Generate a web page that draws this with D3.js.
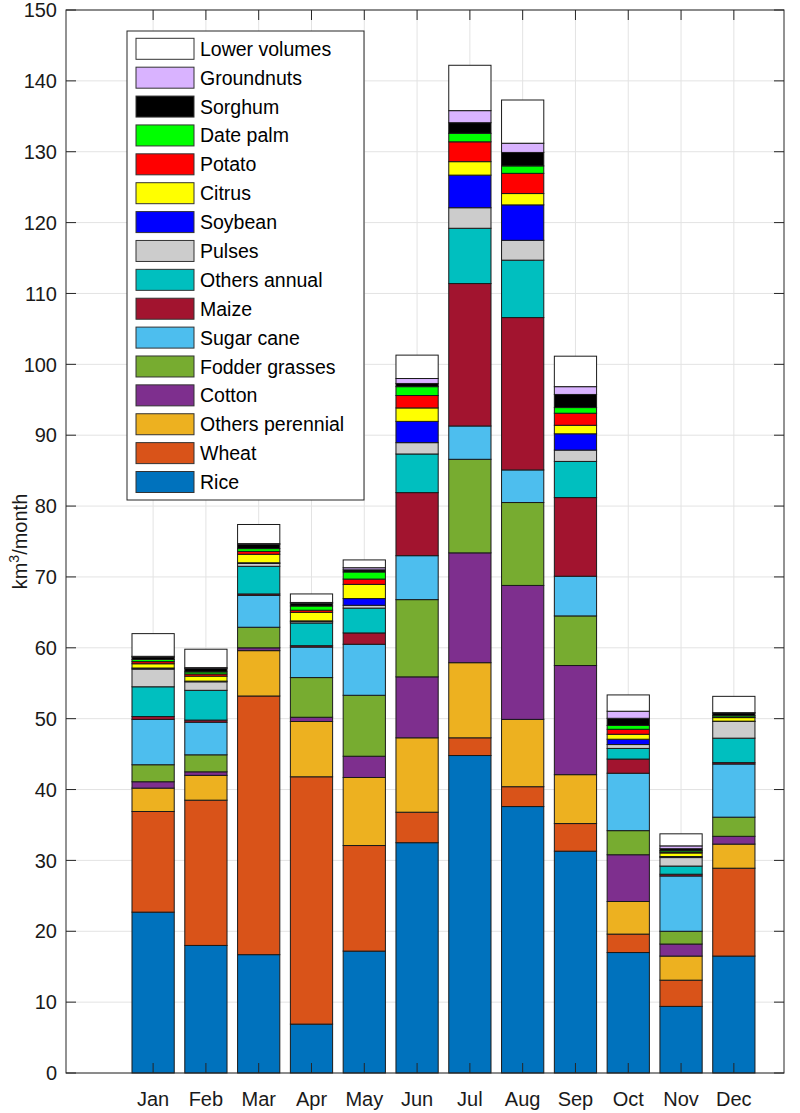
<!DOCTYPE html>
<html><head><meta charset="utf-8">
<script src="https://cdn.jsdelivr.net/npm/d3@7"></script>
<style>body{margin:0;background:#fff}svg{display:block;font-family:"Liberation Sans",Arial,sans-serif}</style>
</head><body><svg id="c" width="800" height="1113"></svg>
<script>
const months = ["Jan","Feb","Mar","Apr","May","Jun","Jul","Aug","Sep","Oct","Nov","Dec"];
const seriesNames = ["Rice","Wheat","Others perennial","Cotton","Fodder grasses","Sugar cane","Maize","Others annual","Pulses","Soybean","Citrus","Potato","Date palm","Sorghum","Groundnuts","Lower volumes"];
const seriesColors = ["#0072BD","#D95319","#EDB120","#7E2F8E","#77AC30","#4DBEEE","#A2142F","#00BFBF","#CCCCCC","#0000FF","#FFFF00","#FF0000","#00FF00","#000000","#D9B3FF","#FFFFFF"];
const rice            = [22.7, 18.0, 16.7, 6.9, 17.2, 32.5, 44.8, 37.6, 31.3, 17.0, 9.4, 16.5];
const wheat           = [14.2, 20.5, 36.5, 34.9, 14.9, 4.3, 2.5, 2.8, 3.9, 2.6, 3.7, 12.4];
const othersPerennial = [3.3, 3.5, 6.4, 7.8, 9.6, 10.5, 10.6, 9.5, 6.9, 4.6, 3.4, 3.4];
const cotton          = [0.9, 0.5, 0.4, 0.6, 3.0, 8.6, 15.5, 18.9, 15.4, 6.6, 1.7, 1.1];
const fodderGrasses   = [2.4, 2.4, 2.9, 5.6, 8.6, 10.9, 13.2, 11.7, 7.0, 3.4, 1.8, 2.7];
const sugarCane       = [6.4, 4.6, 4.5, 4.3, 7.2, 6.2, 4.7, 4.6, 5.6, 8.1, 7.8, 7.5];
const maize           = [0.4, 0.3, 0.2, 0.2, 1.6, 8.9, 20.1, 21.5, 11.1, 2.0, 0.25, 0.2];
const othersAnnual    = [4.2, 4.2, 3.9, 3.2, 3.5, 5.45, 7.8, 8.1, 5.1, 1.5, 1.15, 3.45];
const pulses          = [2.5, 1.2, 0.4, 0.2, 0.4, 1.6, 2.9, 2.8, 1.6, 0.55, 1.2, 2.35];
const soybean         = [0.15, 0.1, 0.1, 0.1, 0.95, 3.0, 4.6, 5.0, 2.3, 0.75, 0.15, 0.05];
const citrus          = [0.6, 0.7, 1.2, 1.2, 2.0, 1.9, 1.9, 1.6, 1.2, 0.7, 0.5, 0.5];
const potato          = [0.3, 0.3, 0.4, 0.3, 0.75, 1.75, 2.8, 2.85, 1.7, 0.7, 0.15, 0.1];
const datePalm        = [0.3, 0.3, 0.4, 0.6, 1.0, 1.25, 1.2, 1.05, 0.8, 0.55, 0.2, 0.2];
const sorghum         = [0.35, 0.5, 0.6, 0.4, 0.3, 0.45, 1.5, 1.9, 1.85, 1.0, 0.25, 0.35];
const groundnuts      = [0.1, 0.1, 0.1, 0.1, 0.3, 0.7, 1.7, 1.3, 1.1, 1.0, 0.4, 0.05];
const lowerVolumes    = [3.2, 2.6, 2.7, 1.2, 1.1, 3.3, 6.4, 6.1, 4.3, 2.3, 1.7, 2.3];
const yTicks = [0,10,20,30,40,50,60,70,80,90,100,110,120,130,140,150];

const seriesValues = [rice,wheat,othersPerennial,cotton,fodderGrasses,sugarCane,maize,othersAnnual,pulses,soybean,citrus,potato,datePalm,sorghum,groundnuts,lowerVolumes];
const table = months.map((m,i)=>{const o={month:m,idx:i+1};seriesNames.forEach((s,k)=>o[s]=seriesValues[k][i]);return o;});
const stacked = d3.stack().keys(seriesNames)(table);

const L=66,R=784,T=10,B=1073;
const svg=d3.select("#c");
const x=d3.scaleLinear().domain([-0.65,12.95]).range([L,R]);
const y=d3.scaleLinear().domain([0,150]).range([B,T]);
const step=x(2)-x(1), bw=step*0.8;
const gridC="#e3e3e3";

svg.append("g").selectAll("line").data(yTicks).join("line")
  .attr("x1",L).attr("x2",R).attr("y1",d=>y(d)).attr("y2",d=>y(d)).attr("stroke",gridC).attr("stroke-width",1);
svg.append("g").selectAll("line").data(table).join("line")
  .attr("x1",d=>x(d.idx)).attr("x2",d=>x(d.idx)).attr("y1",T).attr("y2",B).attr("stroke",gridC).attr("stroke-width",1);

const gb=svg.append("g");
stacked.forEach((layer,k)=>{
  gb.append("g").selectAll("rect").data(layer).join("rect")
    .attr("x",d=>x(d.data.idx)-bw/2).attr("width",bw)
    .attr("y",d=>y(d[1])).attr("height",d=>Math.max(0,y(d[0])-y(d[1])))
    .attr("fill",seriesColors[k]).attr("stroke","#1a1a1a").attr("stroke-width",1);
});

const ax=svg.append("g").attr("stroke","#262626").attr("fill","none");
ax.append("rect").attr("x",L).attr("y",T).attr("width",R-L).attr("height",B-T).attr("stroke-width",1);
const tl=10;
ax.append("g").selectAll("line").data(yTicks).join("line").attr("x1",L).attr("x2",L+tl).attr("y1",d=>y(d)).attr("y2",d=>y(d));
ax.append("g").selectAll("line").data(yTicks).join("line").attr("x1",R).attr("x2",R-tl).attr("y1",d=>y(d)).attr("y2",d=>y(d));
ax.append("g").selectAll("line").data(table).join("line").attr("x1",d=>x(d.idx)).attr("x2",d=>x(d.idx)).attr("y1",B).attr("y2",B-tl);
ax.append("g").selectAll("line").data(table).join("line").attr("x1",d=>x(d.idx)).attr("x2",d=>x(d.idx)).attr("y1",T).attr("y2",T+tl);

svg.append("g").selectAll("text").data(yTicks).join("text")
  .attr("x",L-9).attr("y",d=>y(d)).attr("dy","0.36em").attr("text-anchor","end")
  .attr("font-size",20).attr("fill","#1a1a1a").text(d=>d);
svg.append("g").selectAll("text").data(table).join("text")
  .attr("x",d=>x(d.idx)).attr("y",B+26).attr("dy","0.36em").attr("text-anchor","middle")
  .attr("font-size",20).attr("fill","#1a1a1a").text(d=>d.month);

const yl=svg.append("text").attr("transform",`translate(27,${(T+B)/2}) rotate(-90)`)
  .attr("text-anchor","middle").attr("font-size",20).attr("fill","#1a1a1a");
yl.append("tspan").text("km");
yl.append("tspan").attr("dy",-8).attr("font-size",14).text("3");
yl.append("tspan").attr("dy",8).text("/month");

const lg=svg.append("g");
lg.append("rect").attr("x",127).attr("y",31).attr("width",237).attr("height",469).attr("fill","#fff").attr("stroke","#262626");
const order=seriesNames.map((s,k)=>({s,k})).reverse();
const ly=d3.scaleLinear().domain([0,15]).range([48.8,482]);
order.forEach((o,i)=>{
  lg.append("rect").attr("x",136).attr("y",ly(i)-10.5).attr("width",58).attr("height",21)
    .attr("fill",seriesColors[o.k]).attr("stroke","#333");
  lg.append("text").attr("x",200).attr("y",ly(i)).attr("dy","0.36em").attr("font-size",19.5).attr("fill","#000").text(o.s);
});
</script></body></html>
